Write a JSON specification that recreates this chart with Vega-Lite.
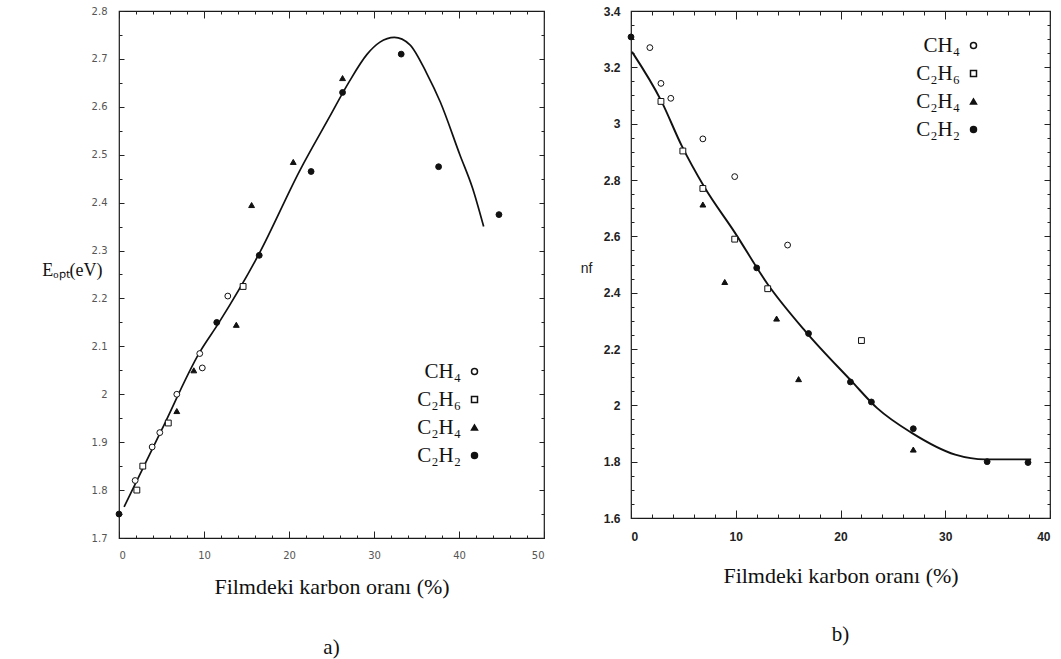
{
  "$schema": "https://vega.github.io/schema/vega-lite/v6.json",
  "padding": {"left": 41, "top": 4, "right": 5, "bottom": 5},
  "background": "white",
  "config": {
    "view": {"stroke": "#1a1a1a", "strokeWidth": 1.2},
    "axis": {"domain": false, "grid": false, "tickColor": "#222", "tickWidth": 1},
    "font": "Liberation Serif"
  },
  "datasets": {
    "curveA": [
      {"x": 0.6, "y": 1.765}, {"x": 5, "y": 1.925}, {"x": 9.5, "y": 2.088}, {"x": 11.7, "y": 2.148},
      {"x": 16.5, "y": 2.294}, {"x": 21.3, "y": 2.468}, {"x": 24.8, "y": 2.58}, {"x": 27, "y": 2.65},
      {"x": 29.2, "y": 2.71}, {"x": 30.7, "y": 2.735}, {"x": 32.4, "y": 2.745}, {"x": 34.2, "y": 2.73},
      {"x": 36.2, "y": 2.67}, {"x": 37.8, "y": 2.61}, {"x": 40.1, "y": 2.5}, {"x": 41.6, "y": 2.43},
      {"x": 42.9, "y": 2.35}
    ],
    "pointsA": [
      {"x": 0, "y": 1.75, "gas": "C₂H₂"},
      {"x": 1.9, "y": 1.82, "gas": "CH₄"},
      {"x": 2.1, "y": 1.8, "gas": "C₂H₆"},
      {"x": 2.8, "y": 1.85, "gas": "C₂H₆"},
      {"x": 3.9, "y": 1.89, "gas": "CH₄"},
      {"x": 4.8, "y": 1.92, "gas": "CH₄"},
      {"x": 5.8, "y": 1.94, "gas": "C₂H₆"},
      {"x": 6.8, "y": 2.0, "gas": "CH₄"},
      {"x": 6.8, "y": 1.965, "gas": "C₂H₄"},
      {"x": 8.8, "y": 2.05, "gas": "C₂H₄"},
      {"x": 9.5, "y": 2.085, "gas": "CH₄"},
      {"x": 9.8, "y": 2.055, "gas": "CH₄"},
      {"x": 11.5, "y": 2.15, "gas": "C₂H₂"},
      {"x": 12.8, "y": 2.205, "gas": "CH₄"},
      {"x": 13.8, "y": 2.145, "gas": "C₂H₄"},
      {"x": 14.6, "y": 2.225, "gas": "C₂H₆"},
      {"x": 15.6, "y": 2.395, "gas": "C₂H₄"},
      {"x": 16.5, "y": 2.29, "gas": "C₂H₂"},
      {"x": 20.5, "y": 2.485, "gas": "C₂H₄"},
      {"x": 22.6, "y": 2.465, "gas": "C₂H₂"},
      {"x": 26.3, "y": 2.66, "gas": "C₂H₄"},
      {"x": 26.3, "y": 2.63, "gas": "C₂H₂"},
      {"x": 33.2, "y": 2.71, "gas": "C₂H₂"},
      {"x": 37.6, "y": 2.475, "gas": "C₂H₂"},
      {"x": 44.7, "y": 2.375, "gas": "C₂H₂"}
    ],
    "curveB": [
      {"x": 0.1, "y": 3.255}, {"x": 2.9, "y": 3.08}, {"x": 4.86, "y": 2.92}, {"x": 7, "y": 2.775},
      {"x": 9.9, "y": 2.614}, {"x": 13.05, "y": 2.43}, {"x": 16.67, "y": 2.262}, {"x": 21.05, "y": 2.086},
      {"x": 23.5, "y": 1.99}, {"x": 26.76, "y": 1.903}, {"x": 30.95, "y": 1.825}, {"x": 33.8, "y": 1.808},
      {"x": 38.2, "y": 1.808}
    ],
    "pointsB": [
      {"x": 0, "y": 3.308, "gas": "C₂H₂"},
      {"x": 1.8, "y": 3.27, "gas": "CH₄"},
      {"x": 2.86, "y": 3.143, "gas": "CH₄"},
      {"x": 2.86, "y": 3.079, "gas": "C₂H₆"},
      {"x": 3.8, "y": 3.09, "gas": "CH₄"},
      {"x": 4.95, "y": 2.903, "gas": "C₂H₆"},
      {"x": 6.86, "y": 2.946, "gas": "CH₄"},
      {"x": 6.86, "y": 2.77, "gas": "C₂H₆"},
      {"x": 6.86, "y": 2.713, "gas": "C₂H₄"},
      {"x": 9.9, "y": 2.812, "gas": "CH₄"},
      {"x": 9.9, "y": 2.59, "gas": "C₂H₆"},
      {"x": 8.95, "y": 2.438, "gas": "C₂H₄"},
      {"x": 12.0, "y": 2.488, "gas": "C₂H₂"},
      {"x": 13.05, "y": 2.414, "gas": "C₂H₆"},
      {"x": 14.95, "y": 2.569, "gas": "CH₄"},
      {"x": 13.9, "y": 2.308, "gas": "C₂H₄"},
      {"x": 16.0, "y": 2.093, "gas": "C₂H₄"},
      {"x": 16.95, "y": 2.255, "gas": "C₂H₂"},
      {"x": 20.95, "y": 2.083, "gas": "C₂H₂"},
      {"x": 22.0, "y": 2.23, "gas": "C₂H₆"},
      {"x": 22.95, "y": 2.012, "gas": "C₂H₂"},
      {"x": 26.95, "y": 1.917, "gas": "C₂H₂"},
      {"x": 26.95, "y": 1.843, "gas": "C₂H₄"},
      {"x": 34.0, "y": 1.8, "gas": "C₂H₂"},
      {"x": 37.9, "y": 1.797, "gas": "C₂H₂"}
    ]
  },
  "bounds": "flush",
  "spacing": 87,
  "resolve": {
    "scale": {"x": "independent", "y": "independent", "shape": "independent", "fill": "independent"},
    "legend": {"shape": "independent", "fill": "independent"}
  },
  "hconcat": [
    {
      "width": 425,
      "height": 527,
      "title": {"text": "a)", "orient": "bottom", "anchor": "middle", "frame": "group", "offset": 40, "font": "Liberation Serif", "fontSize": 21, "fontWeight": "normal", "color": "#111"},
      "resolve": {"axis": {"x": "independent", "y": "independent"}},
      "layer": [
        {
          "data": {"name": "curveA"},
          "mark": {"type": "line", "color": "#111", "strokeWidth": 1.7, "interpolate": "monotone"},
          "encoding": {
            "x": {"field": "x", "type": "quantitative", "scale": {"domain": [0, 50], "nice": false, "zero": false},
              "axis": {"orient": "bottom", "values": [0, 10, 20, 30, 40, 50], "ticks": false, "labelFont": "DejaVu Sans", "labelFontSize": 10, "labelColor": "#555", "labelPadding": 12,
                "title": "Filmdeki karbon oranı (%)", "titleFont": "Liberation Serif", "titleFontSize": 22, "titleFontWeight": "normal", "titleColor": "#111", "titleBaseline": "top", "titleY": 38}},
            "y": {"field": "y", "type": "quantitative", "scale": {"domain": [1.7, 2.8], "nice": false, "zero": false},
              "axis": {"orient": "left", "values": [1.7, 1.8, 1.9, 2, 2.1, 2.2, 2.3, 2.4, 2.5, 2.6, 2.7, 2.8], "format": "~g", "ticks": false, "labelFont": "DejaVu Sans", "labelFontSize": 10, "labelColor": "#555", "labelPadding": 12,
                "title": "Eₒₚₜ(eV)", "titleAngle": 0, "titleAlign": "right", "titleBaseline": "middle", "titleX": -17, "titleY": 259, "titleFont": "Liberation Serif", "titleFontSize": 18, "titleFontWeight": "normal", "titleColor": "#111"}}
          }
        },
        {
          "data": {"name": "pointsA"},
          "mark": {"type": "point", "stroke": "#111", "strokeWidth": 1, "size": 34, "opacity": 1},
          "encoding": {
            "x": {"field": "x", "type": "quantitative", "axis": {"orient": "bottom", "values": [0, 10, 20, 30, 40, 50], "labels": false, "tickSize": -7, "title": null}},
            "y": {"field": "y", "type": "quantitative", "axis": {"orient": "left", "values": [1.7, 1.8, 1.9, 2, 2.1, 2.2, 2.3, 2.4, 2.5, 2.6, 2.7, 2.8], "labels": false, "tickSize": -5, "title": null}},
            "shape": {"field": "gas", "type": "nominal", "scale": {"domain": ["CH₄", "C₂H₆", "C₂H₄", "C₂H₂"], "range": ["circle", "square", "triangle-up", "circle"]},
              "legend": {"orient": "none", "legendX": 345, "legendY": 350, "title": null, "labelFont": "Liberation Serif", "labelFontSize": 21, "labelColor": "#111", "labelAlign": "right", "labelOffset": -24, "symbolSize": 36, "rowPadding": 6, "padding": 0, "labelLimit": 300,
                "encode": {"symbols": {"update": {"stroke": {"value": "#111"}, "strokeWidth": {"value": 1}}}}}},
            "fill": {"field": "gas", "type": "nominal", "scale": {"domain": ["CH₄", "C₂H₆", "C₂H₄", "C₂H₂"], "range": ["white", "white", "#111", "#111"]},
              "legend": {"orient": "none", "legendX": 345, "legendY": 350, "title": null, "labelFont": "Liberation Serif", "labelFontSize": 21, "labelColor": "#111", "labelAlign": "right", "labelOffset": -24, "symbolSize": 36, "rowPadding": 6, "padding": 0, "labelLimit": 300,
                "encode": {"symbols": {"update": {"stroke": {"value": "#111"}, "strokeWidth": {"value": 1}}}}}}
          }
        },
        {
          "data": {"name": "curveA"},
          "mark": {"type": "point", "opacity": 0},
          "encoding": {
            "x": {"field": "x", "type": "quantitative", "axis": {"orient": "bottom", "values": [0, 2, 4, 6, 8, 10, 12, 14, 16, 18, 20, 22, 24, 26, 28, 30, 32, 34, 36, 38, 40, 42, 44, 46, 48, 50], "labels": false, "tickSize": -3, "title": null}},
            "y": {"field": "y", "type": "quantitative", "axis": {"orient": "left", "values": [1.7, 1.75, 1.8, 1.85, 1.9, 1.95, 2, 2.05, 2.1, 2.15, 2.2, 2.25, 2.3, 2.35, 2.4, 2.45, 2.5, 2.55, 2.6, 2.65, 2.7, 2.75, 2.8], "labels": false, "tickSize": -3, "title": null}}
          }
        },
        {
          "data": {"name": "curveA"},
          "mark": {"type": "point", "opacity": 0},
          "encoding": {
            "x": {"field": "x", "type": "quantitative", "axis": {"orient": "top", "values": [0, 10, 20, 30, 40, 50], "labels": false, "tickSize": -7, "title": null}},
            "y": {"field": "y", "type": "quantitative", "axis": {"orient": "right", "values": [1.7, 1.8, 1.9, 2, 2.1, 2.2, 2.3, 2.4, 2.5, 2.6, 2.7, 2.8], "labels": false, "tickSize": -5, "title": null}}
          }
        },
        {
          "data": {"name": "curveA"},
          "mark": {"type": "point", "opacity": 0},
          "encoding": {
            "x": {"field": "x", "type": "quantitative", "axis": {"orient": "top", "values": [0, 2, 4, 6, 8, 10, 12, 14, 16, 18, 20, 22, 24, 26, 28, 30, 32, 34, 36, 38, 40, 42, 44, 46, 48, 50], "labels": false, "tickSize": -3, "title": null}},
            "y": {"field": "y", "type": "quantitative", "axis": {"orient": "right", "values": [1.7, 1.75, 1.8, 1.85, 1.9, 1.95, 2, 2.05, 2.1, 2.15, 2.2, 2.25, 2.3, 2.35, 2.4, 2.45, 2.5, 2.55, 2.6, 2.65, 2.7, 2.75, 2.8], "labels": false, "tickSize": -3, "title": null}}
          }
        }
      ]
    },
    {
      "width": 419,
      "height": 507,
      "title": {"text": "b)", "orient": "bottom", "anchor": "middle", "frame": "group", "offset": 38, "font": "Liberation Serif", "fontSize": 21, "fontWeight": "normal", "color": "#111"},
      "resolve": {"axis": {"x": "independent", "y": "independent"}},
      "layer": [
        {
          "data": {"name": "curveB"},
          "mark": {"type": "line", "color": "#111", "strokeWidth": 1.9, "interpolate": "monotone"},
          "encoding": {
            "x": {"field": "x", "type": "quantitative", "scale": {"domain": [0, 40], "nice": false, "zero": false},
              "axis": {"orient": "bottom", "values": [0, 10, 20, 30, 40], "ticks": false, "labelFont": "Liberation Sans", "labelFontSize": 12, "labelFontWeight": "bold", "labelColor": "#222", "labelPadding": 13,
                "title": "Filmdeki karbon oranı (%)", "titleFont": "Liberation Serif", "titleFontSize": 22, "titleFontWeight": "normal", "titleColor": "#111", "titleBaseline": "top", "titleY": 47}},
            "y": {"field": "y", "type": "quantitative", "scale": {"domain": [1.6, 3.4], "nice": false, "zero": false},
              "axis": {"orient": "left", "values": [1.6, 1.8, 2, 2.2, 2.4, 2.6, 2.8, 3, 3.2, 3.4], "format": "~g", "ticks": false, "labelFont": "Liberation Sans", "labelFontSize": 12, "labelFontWeight": "bold", "labelColor": "#222", "labelPadding": 11,
                "title": "nf", "titleAngle": 0, "titleAlign": "right", "titleBaseline": "middle", "titleX": -39, "titleY": 257, "titleFont": "Liberation Sans", "titleFontSize": 14, "titleFontWeight": "normal", "titleColor": "#222"}}
          }
        },
        {
          "data": {"name": "pointsB"},
          "mark": {"type": "point", "stroke": "#111", "strokeWidth": 1, "size": 34, "opacity": 1},
          "encoding": {
            "x": {"field": "x", "type": "quantitative", "axis": {"orient": "bottom", "values": [0, 10, 20, 30, 40], "labels": false, "tickSize": -8, "title": null}},
            "y": {"field": "y", "type": "quantitative", "axis": {"orient": "left", "values": [1.6, 1.8, 2, 2.2, 2.4, 2.6, 2.8, 3, 3.2, 3.4], "labels": false, "tickSize": -6, "title": null}},
            "shape": {"field": "gas", "type": "nominal", "scale": {"domain": ["CH₄", "C₂H₆", "C₂H₄", "C₂H₂"], "range": ["circle", "square", "triangle-up", "circle"]},
              "legend": {"orient": "none", "legendX": 332, "legendY": 24, "title": null, "labelFont": "Liberation Serif", "labelFontSize": 21, "labelColor": "#111", "labelAlign": "right", "labelOffset": -24, "symbolSize": 36, "rowPadding": 6, "padding": 0, "labelLimit": 300,
                "encode": {"symbols": {"update": {"stroke": {"value": "#111"}, "strokeWidth": {"value": 1}}}}}},
            "fill": {"field": "gas", "type": "nominal", "scale": {"domain": ["CH₄", "C₂H₆", "C₂H₄", "C₂H₂"], "range": ["white", "white", "#111", "#111"]},
              "legend": {"orient": "none", "legendX": 332, "legendY": 24, "title": null, "labelFont": "Liberation Serif", "labelFontSize": 21, "labelColor": "#111", "labelAlign": "right", "labelOffset": -24, "symbolSize": 36, "rowPadding": 6, "padding": 0, "labelLimit": 300,
                "encode": {"symbols": {"update": {"stroke": {"value": "#111"}, "strokeWidth": {"value": 1}}}}}}
          }
        },
        {
          "data": {"name": "curveB"},
          "mark": {"type": "point", "opacity": 0},
          "encoding": {
            "x": {"field": "x", "type": "quantitative", "axis": {"orient": "bottom", "values": [0, 2, 4, 6, 8, 10, 12, 14, 16, 18, 20, 22, 24, 26, 28, 30, 32, 34, 36, 38, 40], "labels": false, "tickSize": -4, "title": null}},
            "y": {"field": "y", "type": "quantitative", "axis": {"orient": "left", "values": [1.6, 1.65, 1.7, 1.75, 1.8, 1.85, 1.9, 1.95, 2, 2.05, 2.1, 2.15, 2.2, 2.25, 2.3, 2.35, 2.4, 2.45, 2.5, 2.55, 2.6, 2.65, 2.7, 2.75, 2.8, 2.85, 2.9, 2.95, 3, 3.05, 3.1, 3.15, 3.2, 3.25, 3.3, 3.35, 3.4], "labels": false, "tickSize": -3, "title": null}}
          }
        },
        {
          "data": {"name": "curveB"},
          "mark": {"type": "point", "opacity": 0},
          "encoding": {
            "x": {"field": "x", "type": "quantitative", "axis": {"orient": "top", "values": [0, 10, 20, 30, 40], "labels": false, "tickSize": -8, "title": null}},
            "y": {"field": "y", "type": "quantitative", "axis": {"orient": "right", "values": [1.6, 1.8, 2, 2.2, 2.4, 2.6, 2.8, 3, 3.2, 3.4], "labels": false, "tickSize": -6, "title": null}}
          }
        },
        {
          "data": {"name": "curveB"},
          "mark": {"type": "point", "opacity": 0},
          "encoding": {
            "x": {"field": "x", "type": "quantitative", "axis": {"orient": "top", "values": [0, 2, 4, 6, 8, 10, 12, 14, 16, 18, 20, 22, 24, 26, 28, 30, 32, 34, 36, 38, 40], "labels": false, "tickSize": -4, "title": null}},
            "y": {"field": "y", "type": "quantitative", "axis": {"orient": "right", "values": [1.6, 1.65, 1.7, 1.75, 1.8, 1.85, 1.9, 1.95, 2, 2.05, 2.1, 2.15, 2.2, 2.25, 2.3, 2.35, 2.4, 2.45, 2.5, 2.55, 2.6, 2.65, 2.7, 2.75, 2.8, 2.85, 2.9, 2.95, 3, 3.05, 3.1, 3.15, 3.2, 3.25, 3.3, 3.35, 3.4], "labels": false, "tickSize": -3, "title": null}}
          }
        }
      ]
    }
  ]
}
